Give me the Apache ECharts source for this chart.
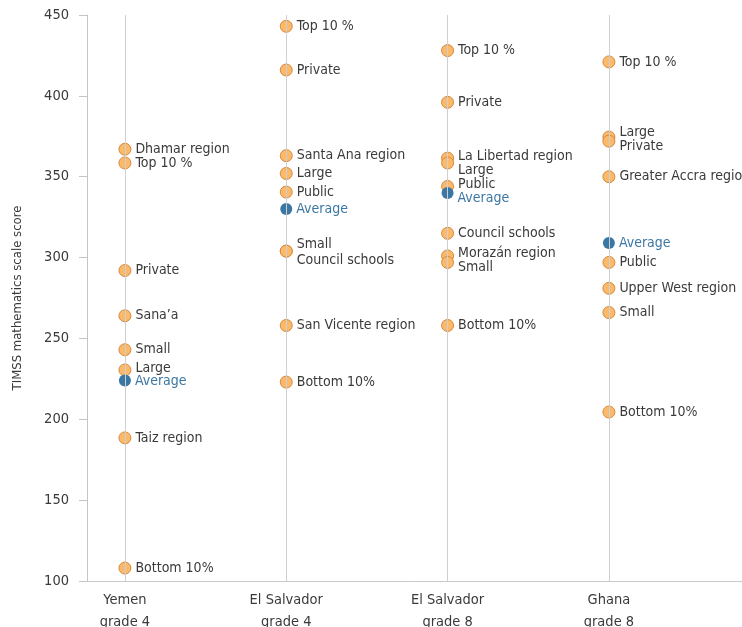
<!DOCTYPE html>
<html>
<head>
<meta charset="utf-8">
<script src="https://cdn.jsdelivr.net/npm/echarts@6/dist/echarts.min.js"></script>
<style>
  html, body { margin: 0; padding: 0; background: #fff; }
  #chart { width: 742px; height: 627px; }
</style>
</head>
<body>
<div id="chart"></div>
<script>
// Country / grade groups along the horizontal axis
const groupLabels = ['Yemen\ngrade 4', 'El Salvador\ngrade 4', 'El Salvador\ngrade 8', 'Ghana\ngrade 8'];

// Subgroup scores per group
const yemenNames  = ['Dhamar region', 'Top 10 %', 'Private', 'Sana\u2019a', 'Small', 'Large', 'Taiz region', 'Bottom 10%'];
const yemenScores = [367, 358.5, 292, 264, 243, 230.5, 188.5, 108];

const salv4Names  = ['Top 10 %', 'Private', 'Santa Ana region', 'Large', 'Public', 'Small', 'Council schools', 'San Vicente region', 'Bottom 10%'];
const salv4Scores = [443, 416, 363, 352, 340.5, 304, 304, 258, 223];

const salv8Names  = ['Top 10 %', 'Private', 'La Libertad region', 'Large', 'Public', 'Council schools', 'Morazán region', 'Small', 'Bottom 10%'];
const salv8Scores = [428, 396, 361.5, 358.5, 344, 315, 301, 297, 258];

const ghanaNames  = ['Top 10 %', 'Large', 'Private', 'Greater Accra region', 'Public', 'Upper West region', 'Small', 'Bottom 10%'];
const ghanaScores = [421, 374.5, 372, 350, 297, 281, 266, 204.5];

// National averages
const averageScores = [224, 330, 340, 309];

// Y axis
const yMin = 100, yMax = 450, yStep = 50;

// Vertical nudges (px) for labels that would otherwise collide
const labelShift = {
  '0|Large': -2,
  '1|Small': -7, '1|Council schools': 9,
  '2|La Libertad region': -2, '2|Large': 7, '2|Public': -2, '2|Morazán region': -3, '2|Small': 5,
  '3|Large': -5, '3|Private': 5
};
const avgShift = [1, 0, 5, 0];

const FONT = "'DejaVu Sans Condensed', 'Roboto', sans-serif";
const ORANGE = '#FBB96B', ORANGE_EDGE = '#D68A3E', BLUE = '#3B77A4', TEXT = '#3a3a3a';

const groups = [
  [yemenNames, yemenScores],
  [salv4Names, salv4Scores],
  [salv8Names, salv8Scores],
  [ghanaNames, ghanaScores]
];

const subgroupData = [];
const subgroupShift = [];
groups.forEach(([names, scores], gi) => {
  names.forEach((name, i) => {
    subgroupData.push({ name: name, value: [gi, scores[i]] });
    subgroupShift.push(labelShift[gi + '|' + name] || 0);
  });
});

const averageData = averageScores.map((v, gi) => ({ name: 'Average', value: [gi, v] }));

const chart = echarts.init(document.getElementById('chart'), null, { renderer: 'canvas' });
chart.setOption({
  animation: false,
  backgroundColor: '#fff',
  textStyle: { fontFamily: FONT },
  grid: { left: 87, right: 0, top: 15, bottom: 46, containLabel: false, outerBoundsMode: 'none' },
  xAxis: {
    type: 'value',
    min: -0.235,
    max: 3.825,
    axisLine: { show: true, onZero: false, lineStyle: { color: '#c9c9c9', width: 1 } },
    axisTick: { show: false },
    splitLine: { show: false },
    axisLabel: {
      customValues: [0, 1, 2, 3],
      formatter: v => groupLabels[Math.round(v)] || '',
      color: TEXT,
      fontFamily: FONT,
      fontSize: 14.5,
      lineHeight: 22,
      margin: 8
    }
  },
  yAxis: {
    type: 'value',
    min: yMin,
    max: yMax,
    interval: yStep,
    name: 'TIMSS mathematics scale score',
    nameLocation: 'middle',
    nameGap: 63,
    nameRotate: 90,
    nameTextStyle: { color: TEXT, fontFamily: FONT, fontSize: 13 },
    axisLine: { show: true, onZero: false, lineStyle: { color: '#c4c4c4', width: 1 } },
    axisTick: { show: true, length: 8, lineStyle: { color: '#c4c4c4' } },
    splitLine: { show: false },
    axisLabel: { color: TEXT, fontFamily: FONT, fontSize: 14.5, margin: 18 }
  },
  series: [
    {
      type: 'scatter',
      data: [],
      z: 1,
      silent: true,
      markLine: {
        silent: true,
        symbol: ['none', 'none'],
        label: { show: false },
        lineStyle: { color: '#cfcfcf', width: 1, type: 'solid' },
        data: [0, 1, 2, 3].map(x => ({ xAxis: x }))
      }
    },
    {
      type: 'scatter',
      z: 3,
      symbolSize: 12,
      itemStyle: { color: ORANGE, borderColor: ORANGE_EDGE, borderWidth: 1, opacity: 1 },
      label: {
        show: true,
        position: 'right',
        distance: 4,
        formatter: p => p.name,
        color: TEXT,
        fontFamily: FONT,
        fontSize: 14
      },
      labelLayout: p => ({ dy: subgroupShift[p.dataIndex], hideOverlap: false }),
      data: subgroupData
    },
    {
      type: 'scatter',
      z: 4,
      symbolSize: 12,
      itemStyle: { color: BLUE, opacity: 1 },
      label: {
        show: true,
        position: 'right',
        distance: 4,
        formatter: p => p.name,
        color: BLUE,
        fontFamily: FONT,
        fontSize: 14
      },
      labelLayout: p => ({ dy: avgShift[p.dataIndex], hideOverlap: false }),
      data: averageData
    }
  ]
});
</script>
</body>
</html>
